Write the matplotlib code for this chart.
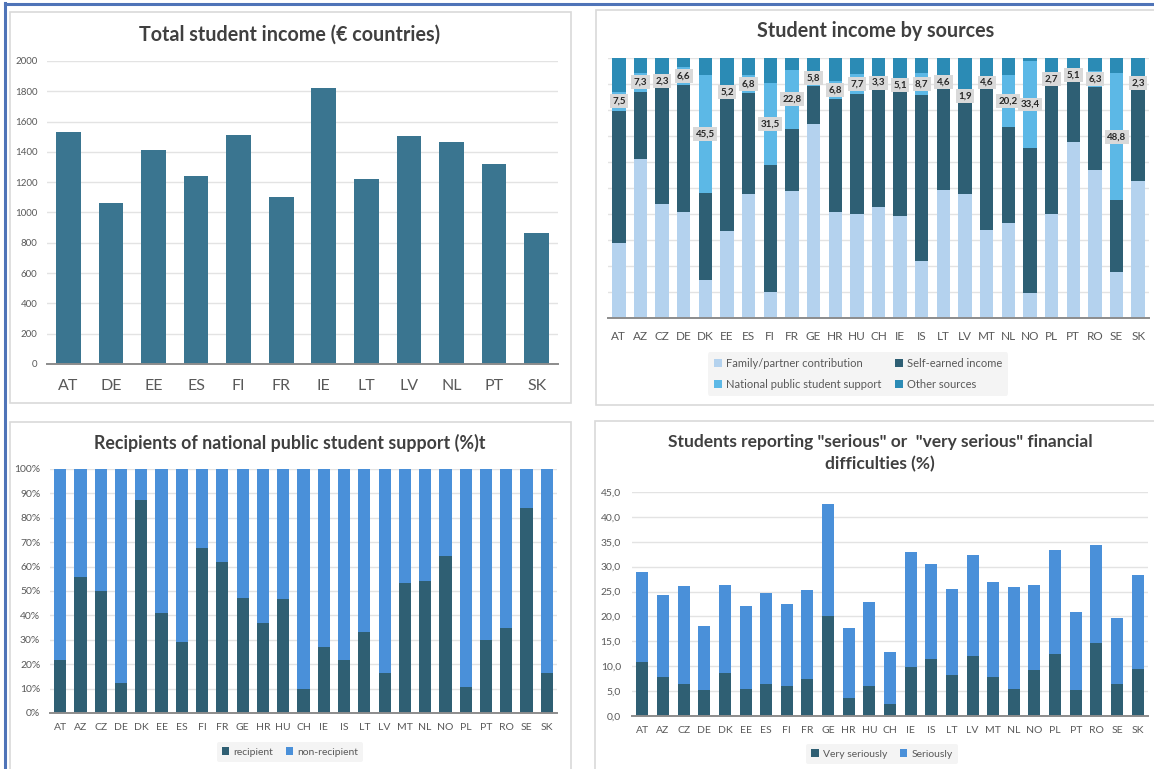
import matplotlib
matplotlib.use("Agg")
import matplotlib.pyplot as plt
from matplotlib.patches import Rectangle
from matplotlib.lines import Line2D
import numpy as np

plt.rcParams['font.family'] = ['Lato', 'DejaVu Sans']

# ---------------- data ----------------
income_countries = ["AT", "DE", "EE", "ES", "FI", "FR", "IE", "LT", "LV", "NL", "PT", "SK"]
total_income = [1530, 1063, 1411, 1244, 1513, 1100, 1819, 1219, 1504, 1464, 1323, 864]

countries = ["AT", "AZ", "CZ", "DE", "DK", "EE", "ES", "FI", "FR", "GE", "HR", "HU", "CH",
             "IE", "IS", "LT", "LV", "MT", "NL", "NO", "PL", "PT", "RO", "SE", "SK"]

family = [29.0, 61.2, 44.0, 40.8, 14.7, 33.3, 47.8, 9.9, 49.0, 74.6, 40.8, 40.1, 42.7,
          39.1, 22.0, 49.4, 47.7, 33.8, 36.5, 9.6, 40.1, 67.7, 56.8, 17.7, 52.8]
self_earned = [50.6, 25.8, 46.0, 49.0, 33.3, 51.0, 38.7, 48.8, 23.7, 14.7, 43.6, 46.0, 46.2,
               47.8, 63.6, 39.0, 36.7, 54.5, 36.8, 55.8, 50.6, 23.1, 31.9, 27.6, 36.5]
public_support = [7.5, 7.3, 2.3, 6.6, 45.5, 5.2, 6.8, 31.5, 22.8, 5.8, 6.8, 7.7, 3.3,
                  5.1, 8.7, 4.6, 1.9, 4.6, 20.2, 33.4, 2.7, 5.1, 6.3, 48.8, 2.3]
other_sources = [12.9, 5.7, 7.7, 3.6, 6.5, 10.5, 6.7, 9.8, 4.5, 4.9, 8.8, 6.2, 7.8,
                 8.0, 5.7, 7.0, 13.7, 7.1, 6.5, 1.2, 6.6, 4.1, 5.0, 5.9, 8.4]

recipient = [21.8, 55.9, 50.0, 12.3, 87.3, 40.9, 28.9, 67.8, 61.7, 47.1, 37.0, 46.7, 9.8,
             26.9, 21.8, 33.0, 16.4, 53.2, 53.9, 64.5, 10.5, 30.0, 35.0, 84.2, 16.4]

difficulty_total = [28.9, 24.4, 26.1, 18.1, 26.4, 22.1, 24.7, 22.5, 25.3, 42.6, 17.6, 22.9, 12.8,
                    33.0, 30.5, 25.5, 32.4, 27.0, 26.0, 26.3, 33.4, 20.8, 34.3, 19.7, 28.3]
very_seriously = [10.8, 7.8, 6.4, 5.3, 8.7, 5.5, 6.5, 6.0, 7.5, 20.1, 3.6, 6.0, 2.4,
                  9.8, 11.5, 8.2, 12.0, 7.9, 5.4, 9.2, 12.5, 5.2, 14.6, 6.5, 9.4]

# ---------------- style ----------------
W, H = 1154, 769
TICK = '#595959'
TITLE = '#404040'
GRID = '#e3e3e3'
AXLINE = '#8c8c8c'

C_INCOME = '#3a7590'
C_FAMILY = '#b4d2ee'
C_SELF = '#2e5f74'
C_PUBLIC = '#5cb8e6'
C_OTHER = '#2b8bb5'
C_DARK = '#2f5f73'
C_BLUE = '#4a90d9'

fig = plt.figure(figsize=(W / 100, H / 100), dpi=100)
fig.patch.set_facecolor('white')


def px_axes(x0, y0, x1, y1):
    return fig.add_axes([x0 / W, 1 - y1 / H, (x1 - x0) / W, (y1 - y0) / H])


def panel_box(x0, y0, x1, y1):
    fig.add_artist(Rectangle((x0 / W, 1 - y1 / H), (x1 - x0) / W, (y1 - y0) / H,
                             transform=fig.transFigure, facecolor='white',
                             edgecolor='#d9d9d9', lw=1.2, zorder=-1))


def style_axes(ax, xpad, ypad, xsize, ysize):
    for s in ['top', 'right', 'left']:
        ax.spines[s].set_visible(False)
    ax.spines['bottom'].set_color(AXLINE)
    ax.spines['bottom'].set_linewidth(1.4)
    ax.spines['bottom'].set_zorder(5)
    ax.tick_params(axis='both', length=0, colors=TICK)
    ax.tick_params(axis='x', pad=xpad, labelsize=xsize)
    ax.tick_params(axis='y', pad=ypad, labelsize=ysize)
    ax.grid(axis='y', color=GRID, lw=1.0)
    ax.set_axisbelow(True)


def title(x, y, text, size=12.5):
    fig.text(x / W, 1 - y / H, text, ha='center', va='center', fontsize=size,
             fontweight='bold', color=TITLE)


def legend(cx, cy, handles, labels, ncol, size, rowgap=0.6):
    lg = fig.legend(handles, labels, loc='center', bbox_to_anchor=(cx / W, 1 - cy / H),
                    ncol=ncol, frameon=True, fontsize=size, handlelength=0.7,
                    handleheight=0.7, handletextpad=0.4, columnspacing=1.2,
                    borderpad=0.5, labelspacing=rowgap)
    lg.get_frame().set_facecolor('#f2f2f2')
    lg.get_frame().set_edgecolor('none')
    for t in lg.get_texts():
        t.set_color(TICK)
    return lg


# outer frame lines
fig.add_artist(Line2D([5 / W, 5 / W], [0, 1 - 3 / H], transform=fig.transFigure,
                      color='#4f74b8', lw=2.2))
fig.add_artist(Line2D([5 / W, 1], [1 - 4 / H, 1 - 4 / H], transform=fig.transFigure,
                      color='#4f74b8', lw=2.2))

panel_box(10, 12, 571, 403)
panel_box(596, 10, 1160, 405)
panel_box(10, 422, 571, 772)
panel_box(595, 421, 1160, 772)

# ---------------- panel 1: total income ----------------
ax1 = px_axes(47, 61, 558, 364)
x1 = np.arange(len(income_countries))
ax1.bar(x1, total_income, width=0.58, color=C_INCOME, zorder=3)
ax1.set_xlim(-0.5, len(income_countries) - 0.5)
ax1.set_ylim(0, 2000)
ax1.set_yticks(np.arange(0, 2001, 200))
ax1.set_xticks(x1)
ax1.set_xticklabels(income_countries)
style_axes(ax1, 11, 7, 11.5, 7)
title(290, 35, "Total student income (€ countries)", 14.2)

# ---------------- panel 2: income by sources ----------------
ax2 = px_axes(608, 58, 1149, 318)
x2 = np.arange(len(countries))
bw = 0.62
b_fam = ax2.bar(x2, family, width=bw, color=C_FAMILY, zorder=3)
bottom = np.array(family)
b_self = ax2.bar(x2, self_earned, width=bw, bottom=bottom, color=C_SELF, zorder=3)
bottom = bottom + np.array(self_earned)
b_pub = ax2.bar(x2, public_support, width=bw, bottom=bottom, color=C_PUBLIC, zorder=3)
pub_mid = bottom + np.array(public_support) / 2
bottom = bottom + np.array(public_support)
b_oth = ax2.bar(x2, other_sources, width=bw, bottom=bottom, color=C_OTHER, zorder=3)
for xi, yi, v in zip(x2, pub_mid, public_support):
    ax2.text(xi, yi, f"{v:.1f}".replace('.', ','), ha='center', va='center',
             fontsize=7, fontweight='bold', color='#262626', zorder=6,
             bbox=dict(boxstyle='square,pad=0.25', facecolor='#d9d9d9', edgecolor='none'))
ax2.set_xlim(-0.5, len(countries) - 0.5)
ax2.set_ylim(0, 100)
ax2.set_yticks(np.arange(0, 101, 10))
ax2.set_yticklabels([])
ax2.set_xticks(x2)
ax2.set_xticklabels(countries)
style_axes(ax2, 9, 0, 8.5, 7)
title(876, 31, "Student income by sources", 14.2)
legend(858, 374, [b_fam, b_pub, b_self, b_oth],
       ["Family/partner contribution", "National public student support",
        "Self-earned income", "Other sources"], 2, 8, rowgap=0.9)

# ---------------- panel 3: recipients ----------------
ax3 = px_axes(50, 469, 557, 713)
non_recipient = [100 - r for r in recipient]
b_rec = ax3.bar(x2, recipient, width=0.6, color=C_DARK, zorder=3)
b_non = ax3.bar(x2, non_recipient, width=0.6, bottom=recipient, color=C_BLUE, zorder=3)
ax3.set_xlim(-0.5, len(countries) - 0.5)
ax3.set_ylim(0, 100)
ax3.set_yticks(np.arange(0, 101, 10))
ax3.set_yticklabels([f"{v}%" for v in range(0, 101, 10)])
ax3.set_xticks(x2)
ax3.set_xticklabels(countries)
style_axes(ax3, 7, 7, 7.5, 7.5)
title(290, 443, "Recipients of national public student support (%)t", 12.8)
legend(290, 752, [b_rec, b_non], ["recipient", "non-recipient"], 2, 7.5)

# ---------------- panel 4: financial difficulties ----------------
ax4 = px_axes(632, 492, 1148, 716)
seriously = [t - v for t, v in zip(difficulty_total, very_seriously)]
b_very = ax4.bar(x2, very_seriously, width=0.58, color=C_DARK, zorder=3)
b_ser = ax4.bar(x2, seriously, width=0.58, bottom=very_seriously, color=C_BLUE, zorder=3)
ax4.set_xlim(-0.5, len(countries) - 0.5)
ax4.set_ylim(0, 45)
ax4.set_yticks(np.arange(0, 46, 5))
ax4.set_yticklabels([f"{v:.1f}".replace('.', ',') for v in range(0, 46, 5)])
ax4.set_xticks(x2)
ax4.set_xticklabels(countries)
style_axes(ax4, 7, 8, 7.5, 7.5)
title(880, 442, 'Students reporting "serious" or  "very serious" financial')
title(880, 464, 'difficulties (%)')
legend(882, 754, [b_very, b_ser], ["Very seriously", "Seriously"], 2, 7.5)

fig.savefig("out.png", dpi=100)
